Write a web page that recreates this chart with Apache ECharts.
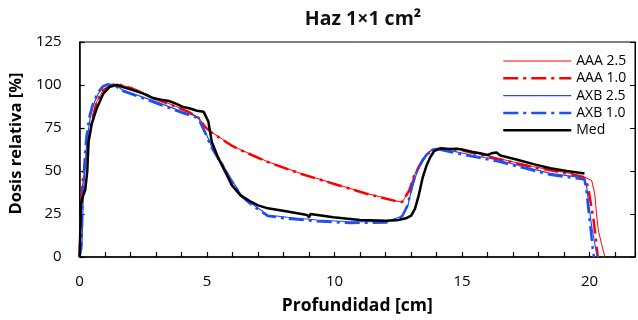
<!DOCTYPE html>
<html>
<head>
<meta charset="utf-8">
<script src="https://cdn.jsdelivr.net/npm/echarts@6/dist/echarts.min.js"></script>
<style>
  html, body { margin: 0; padding: 0; background: #fff; }
  #chart { width: 638px; height: 320px; }
</style>
</head>
<body>
<div id="chart"></div>
<script>
// profundidad [cm] / dosis relativa [%]
const aaa25Depth = [0, 0.05, 0.1, 0.28, 0.48, 0.67, 0.93, 1.25, 1.5, 2.09, 2.98, 3.64, 4.28, 4.67, 4.93, 5.18, 5.44, 5.96, 6.34, 7.38, 8.67, 9.95, 11.25, 12.53, 12.65, 12.92, 13.1, 13.3, 13.57, 13.82, 14.08, 15.0, 16.4, 17.8, 19.23, 19.75, 20.08, 20.2, 20.27, 20.34, 20.46, 20.6]
const aaa25Dose = [0, 25, 40, 61, 78.7, 90.3, 97, 100, 100.5, 98, 92.2, 88.4, 84.5, 81, 75.8, 72.5, 70, 65, 62.2, 55.4, 48.6, 42.8, 37, 32.2, 32, 38.5, 46.7, 52.5, 59.3, 62.2, 63.2, 62.2, 57.4, 52.5, 48.6, 46.7, 44.5, 37, 25.4, 15.7, 8, 0]

const aaa10Depth = [0, 0.05, 0.1, 0.28, 0.48, 0.67, 0.93, 1.25, 1.5, 2.09, 2.98, 3.64, 4.28, 4.67, 4.93, 5.18, 5.44, 5.96, 6.34, 7.38, 8.67, 9.95, 11.25, 12.53, 12.65, 12.92, 13.1, 13.3, 13.57, 13.82, 14.08, 15.0, 16.4, 17.8, 19.23, 19.75, 19.85, 19.95, 20.05, 20.15, 20.25, 20.32]
const aaa10Dose = [0, 28, 42, 62, 79, 90.5, 97, 100, 100.5, 97.8, 92, 88.2, 84.3, 80.8, 75.5, 72.3, 69.8, 64.8, 62, 55.2, 48.4, 42.6, 36.8, 32, 32, 38.5, 46.5, 52.5, 59, 62, 63, 62, 57, 52.2, 48.3, 46.5, 45, 40, 31, 22, 10, 0]

const axb25Depth = [0, 0.09, 0.15, 0.28, 0.41, 0.54, 0.73, 0.93, 1.12, 1.4, 1.7, 2.99, 4.02, 4.54, 4.67, 4.93, 5.18, 5.44, 5.57, 5.83, 5.96, 6.34, 6.73, 7.38, 8.15, 9.31, 10.6, 12.02, 12.53, 12.66, 12.86, 13.05, 13.24, 13.44, 13.7, 13.95, 14.5, 15.37, 16.4, 17.4, 18.46, 19.62, 19.82, 19.88, 19.95, 20.08, 20.2, 20.3]
const axb25Dose = [0, 5, 38, 67, 80.6, 88.4, 95, 99, 100.4, 100, 97, 90.3, 84.5, 82, 80.6, 72.9, 64.1, 57.4, 55, 48, 44.8, 36, 31.2, 24.4, 23.1, 21.5, 20.5, 20.5, 23, 24, 29.2, 41, 49.6, 55.4, 61.2, 63.2, 62, 59.3, 56.4, 52.5, 48.6, 46.3, 45, 41, 33, 17.6, 8, 0]

const axb10Depth = [0, 0.07, 0.13, 0.26, 0.39, 0.52, 0.71, 0.91, 1.1, 1.4, 1.7, 2.99, 4.02, 4.54, 4.67, 4.93, 5.18, 5.44, 5.57, 5.83, 5.96, 6.34, 6.73, 7.38, 8.15, 9.31, 10.6, 12.02, 12.53, 12.66, 12.86, 13.05, 13.24, 13.44, 13.7, 13.95, 14.5, 15.37, 16.4, 17.4, 18.46, 19.62, 19.8, 19.88, 19.95, 20.05, 20.12, 20.17]
const axb10Dose = [0, 8, 42, 69, 82, 89, 95.5, 99.2, 100.4, 99.5, 96.5, 89.5, 83.8, 81.3, 80, 72, 63.5, 57, 54.5, 47.5, 44.3, 35.5, 30.5, 23.8, 22.3, 20.8, 19.8, 20, 22.5, 24, 30, 42, 50.5, 56, 61.5, 63, 61.2, 58.5, 55.6, 51.8, 47.8, 45.5, 45, 38, 28, 15, 5, 0]

const medDepth = [0, 0.05, 0.1, 0.22, 0.3, 0.35, 0.48, 0.67, 0.93, 1.19, 1.44, 2.09, 2.5, 2.86, 3.2, 3.5, 3.8, 4.02, 4.3, 4.6, 4.86, 5.05, 5.18, 5.44, 5.83, 5.96, 6.3, 6.73, 7.0, 7.38, 8.15, 8.92, 9.0, 9.05, 9.1, 9.95, 10.99, 12.02, 12.5, 12.8, 13.0, 13.15, 13.3, 13.45, 13.6, 13.75, 13.9, 14.15, 14.5, 14.8, 15.0, 15.37, 15.7, 16.0, 16.2, 16.35, 16.5, 16.7, 17.2, 17.8, 18.46, 19.1, 19.8]
const medDose = [0, 30, 34, 39, 50, 67, 77.7, 86.4, 95, 99, 100, 97, 95, 92.5, 91.5, 90.7, 89, 87.4, 86.5, 85, 84.5, 78.7, 67, 57.5, 46, 41.9, 36, 32, 30, 28.3, 26.4, 24.4, 23, 25, 24, 23.1, 21.5, 21.1, 21.5, 22.5, 24, 28, 36, 46, 53, 58, 61.5, 63.2, 62.8, 63, 62.5, 61.2, 60.3, 59.3, 60.5, 60.8, 59, 58.3, 56.4, 54, 51.6, 50, 48.6]

const xTicksLabeled = [0, 5, 10, 15, 20]
const yTicks = [0, 25, 50, 75, 100, 125]

const $chart = document.getElementById('chart')
const chart = echarts.init($chart, null, { renderer: 'canvas' })

const FONT = 'Open Sans'
const dashDot = [15, 5, 3, 5]

function pairs(xs, ys) {
  return xs.map((x, i) => [x, ys[i]])
}

function makeLine(name, xs, ys, color, width, type) {
  return {
    name: name,
    type: 'line',
    symbol: 'none',
    smooth: false,
    data: pairs(xs, ys),
    lineStyle: { color: color, width: width, type: type },
    itemStyle: { color: color }
  }
}

const option = {
  backgroundColor: '#fff',
  animation: false,
  title: {
    text: 'Haz 1×1 cm²',
    left: 358,
    textAlign: 'center',
    top: 4,
    textStyle: { fontFamily: FONT, fontWeight: 'bold', fontSize: 19.5, color: '#111' }
  },
  legend: {
    orient: 'vertical',
    left: 497,
    top: 49,
    itemWidth: 68,
    itemHeight: 12,
    itemGap: 3.3,
    itemStyle: { opacity: 0 },
    lineStyle: { width: 'inherit' },
    textStyle: { fontFamily: FONT, fontSize: 14, lineHeight: 14, color: '#000' },
    data: ['AAA 2.5', 'AAA 1.0', 'AXB 2.5', 'AXB 1.0', 'Med']
  },
  grid: {
    left: 76,
    top: 42,
    right: -1,
    bottom: 63,
    show: true,
    borderColor: '#000',
    borderWidth: 1
  },
  xAxis: {
    type: 'value',
    min: 0,
    max: 21.78,
    interval: 1,
    name: 'Profundidad [cm]',
    nameLocation: 'middle',
    nameGap: 40,
    nameTextStyle: { fontFamily: FONT, fontWeight: 'bold', fontSize: 17.5, color: '#000' },
    axisLine: { show: true, lineStyle: { color: '#000', width: 1.5 } },
    axisTick: { show: true, inside: true, length: 5, lineStyle: { color: '#000', width: 1.2 } },
    splitLine: { show: false },
    axisLabel: {
      fontFamily: FONT, fontSize: 15, color: '#000', margin: 17,
      formatter(value) {
        return xTicksLabeled.indexOf(value) >= 0 ? String(value) : ''
      }
    }
  },
  yAxis: [
    {
      type: 'value',
      min: 0,
      max: 125,
      interval: 25,
      name: 'Dosis relativa [%]',
      nameLocation: 'middle',
      nameGap: 47,
      nameTextStyle: {
        fontFamily: FONT, fontWeight: 'bold', fontSize: 16.5, color: '#000',
        padding: [0, 0, 0, 12]
      },
      axisLine: { show: true, lineStyle: { color: '#000', width: 1.5 } },
      axisTick: { show: true, inside: true, length: 5, lineStyle: { color: '#000', width: 1.2 } },
      splitLine: { show: false },
      axisLabel: {
        fontFamily: FONT, fontSize: 15, color: '#000', margin: 18,
        formatter(value) {
          return yTicks.indexOf(value) >= 0 ? String(value) : ''
        }
      }
    },
    {
      type: 'value',
      position: 'right',
      min: 0,
      max: 125,
      interval: 25,
      axisLine: { show: true, lineStyle: { color: '#000', width: 1 } },
      axisTick: { show: true, inside: true, length: 5, lineStyle: { color: '#000' } },
      axisLabel: { show: false },
      splitLine: { show: false }
    }
  ],
  series: [
    makeLine('AAA 2.5', aaa25Depth, aaa25Dose, '#ff0000', 1, 'solid'),
    makeLine('AAA 1.0', aaa10Depth, aaa10Dose, '#ff0000', 2.5, dashDot),
    makeLine('AXB 2.5', axb25Depth, axb25Dose, '#1f4ef5', 1.2, 'solid'),
    makeLine('AXB 1.0', axb10Depth, axb10Dose, '#1f4ef5', 2.5, dashDot),
    makeLine('Med', medDepth, medDose, '#000000', 2.5, 'solid')
  ]
}

chart.setOption(option)
</script>
</body>
</html>
